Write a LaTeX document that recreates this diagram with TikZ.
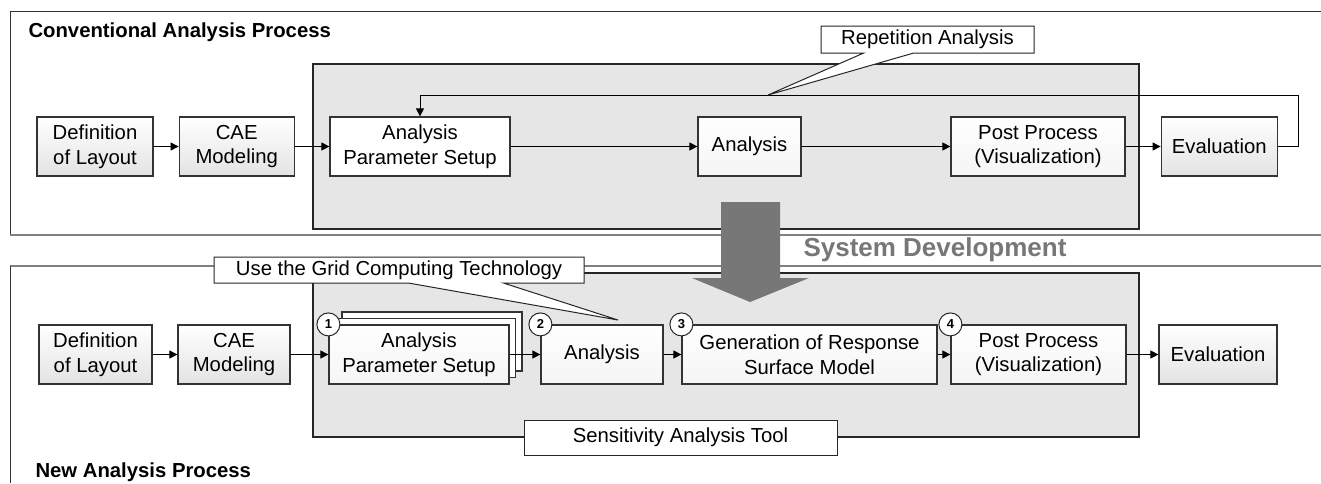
\documentclass[tikz,border=0pt]{standalone}
\usepackage{fontspec}
\setmainfont{Liberation Sans}
\definecolor{PanelGray}{HTML}{E6E6E6}
\definecolor{ArrowGray}{HTML}{777777}
\definecolor{EdgeGray}{HTML}{808080}
\usetikzlibrary{arrows.meta,positioning,shapes.callouts,shadows,calc}

\begin{document}
\begin{tikzpicture}[x=1pt, y=-1pt,
  every node/.style={font=\fontsize{20.3}{24.5}\selectfont},
  stepbox/.style={draw=black!80, line width=1.2pt, align=center, inner sep=0pt, minimum height=59pt, top color=white, bottom color=black!11},
  toolstep/.style={stepbox, bottom color=black!4},
  panel/.style={draw=black!85, line width=1.2pt, fill=PanelGray, inner sep=0pt},
  flow/.style={-{Triangle[length=8pt,width=8pt]}, line width=0.9pt},
  num/.style={circle, draw=black!85, line width=1pt, fill=white, minimum size=23pt, inner sep=0pt, font=\fontsize{13}{13}\selectfont\bfseries},
  note/.style={rectangle callout, draw=black!85, line width=1pt, fill=white, inner sep=0pt},
  title/.style={anchor=base west, font=\fontsize{20.3}{24}\selectfont\bfseries},
  layer/.style={copy shadow={shadow xshift=#1pt, shadow yshift=#1pt, fill=white, draw=black!80, line width=1.2pt}}
]

 \useasboundingbox (0,0) rectangle (1321,483);

 % frames
 \draw[black!80, line width=1pt] (1321,11) -- (10,11) -- (10,235);
 \draw[EdgeGray, line width=2pt] (10,235) -- (1321,235);
 \draw[EdgeGray, line width=2pt] (1321,266) -- (10,266);
 \draw[black!80, line width=1pt] (10,266) -- (10,483);

 \node[panel, minimum width=826pt, minimum height=165pt] (toolA) at (726,146.5) {};
 \node[panel, minimum width=826pt, minimum height=164pt] (toolB) at (726,355) {};

 \fill[ArrowGray] (721,202) -- (780,202) -- (780,278) -- (809,278) -- (750,302) -- (692,278) -- (721,278) -- cycle;

 \node[title] (convTitle) at (25,37) {Conventional Analysis Process};
 \node[title] (newTitle) at (32,477) {New Analysis Process};
 \node[font=\fontsize{26}{26}\selectfont\bfseries, text=ArrowGray] (sysDev) at (935,250) {System Development};

 % conventional
 \node[stepbox, minimum width=116pt] (defA) at (95,146.5) {Definition\\of Layout};
 \node[stepbox, minimum width=115pt, right=25pt of defA] (caeA) {CAE\\Modeling};
 \node[toolstep, minimum width=180pt, bottom color=white] (setupA) at (420,146.5) {Analysis\\Parameter Setup};
 \node[toolstep, minimum width=103pt] (anaA) at (749.5,146.5) {Analysis};
 \node[toolstep, minimum width=174pt] (postA) at (1038,146.5) {Post Process\\(Visualization)};
 \node[stepbox, minimum width=116pt, right=35pt of postA] (evalA) {Evaluation};

 \draw[flow] (defA) -- (caeA);
 \draw[flow] (caeA) -- (setupA);
 \draw[flow] (setupA) -- (anaA);
 \draw[flow] (anaA) -- (postA);
 \draw[flow] (postA) -- (evalA);
 \coordinate (loopTop) at (420,95);
 \draw[flow] (evalA.east) -- ++(21,0) |- (loopTop) -- (setupA.north);

 \coordinate (repPt) at (768,95);
 \node[note, minimum width=213pt, minimum height=27pt, callout absolute pointer={(repPt)}, callout pointer width=50pt] (repNote) at (927.5,39.5) {Repetition Analysis};

 % new
 \node[stepbox, minimum width=113pt] (defB) at (95.5,354.5) {Definition\\of Layout};
 \node[stepbox, minimum width=112pt] (caeB) at (234,354.5) {CAE\\Modeling};
 \node[toolstep, minimum width=180pt, layer=13, layer=6.5] (setupB) at (419,354.5) {Analysis\\Parameter Setup};
 \node[toolstep, minimum width=122pt] (anaB) at (602,354.5) {Analysis};
 \node[toolstep, minimum width=255pt] (genB) at (809.5,354.5) {Generation of Response\\Surface Model};
 \node[toolstep, minimum width=175pt] (postB) at (1038.5,354.5) {Post Process\\(Visualization)};
 \node[stepbox, minimum width=118pt] (evalB) at (1218,354.5) {Evaluation};

 \draw[flow] (defB) -- (caeB);
 \draw[flow] (caeB) -- (setupB);
 \draw[flow] (setupB) -- (anaB);
 \draw[flow] (anaB) -- (genB);
 \draw[flow] (genB) -- (postB);
 \draw[flow] (postB) -- (evalB);

 \foreach \n/\step in {1/setupB, 2/anaB, 3/genB, 4/postB}
  \node[num] (num\n) at (\step.north west) {\n};

 \coordinate (gridPt) at (618,320);
 \node[note, minimum width=370pt, minimum height=26pt, callout absolute pointer={(gridPt)}, callout pointer width=95pt] (gridNote) at (399,270) {Use the Grid Computing Technology};

 \node[draw=black!85, line width=1pt, fill=white, minimum width=313pt, minimum height=35pt, inner sep=0pt] (toolNote) at (680.5,437.5) {Sensitivity Analysis Tool};

\end{tikzpicture}
\end{document}
